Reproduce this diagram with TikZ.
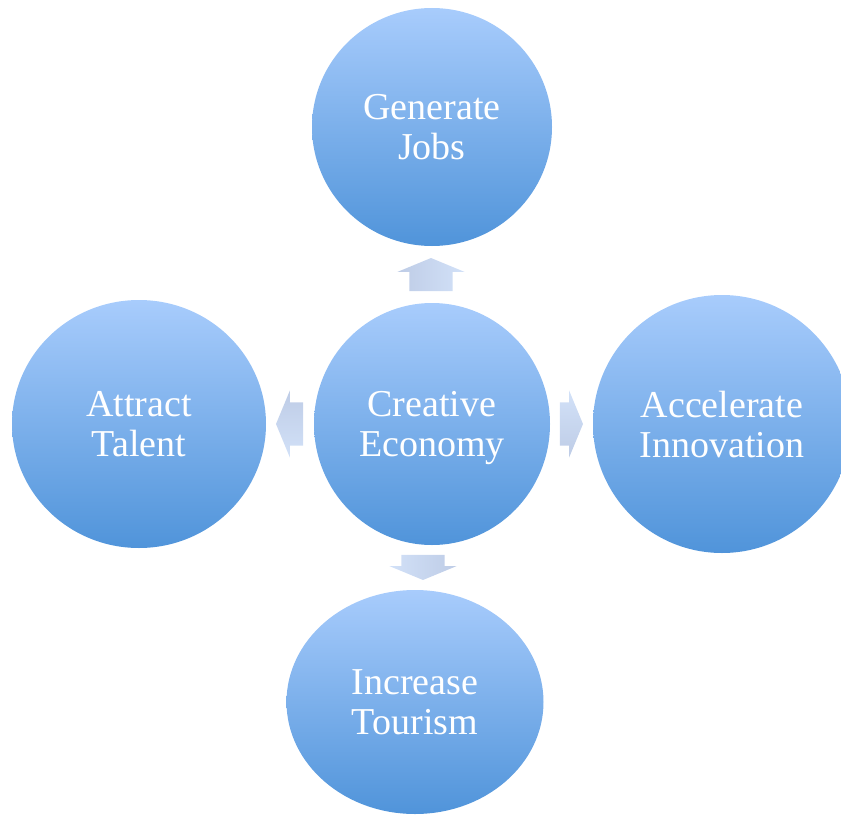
\documentclass[tikz,border=0pt]{standalone}
\usepackage{fontspec}
\setmainfont{Liberation Serif}
\usepackage{tikz}
\usetikzlibrary{positioning,shapes.geometric,shapes.arrows}

\definecolor{bubbletop}{RGB}{168,204,252}
\definecolor{bubblebot}{RGB}{80,148,218}
\definecolor{arrowtop}{RGB}{210,225,248}
\definecolor{arrowbot}{RGB}{190,204,230}

\begin{document}
\begin{tikzpicture}
		[x=1pt,y=-1pt,
		bubble/.style={ellipse,draw=none,inner sep=0pt,top color=bubbletop,bottom color=bubblebot,
			text=white,align=center,text depth=0pt,font=\fontsize{38}{40}\selectfont},
		blockarrow/.style={single arrow,draw=none,inner xsep=0pt,inner ysep=21.5pt,minimum width=67pt,
			single arrow head extend=12pt,single arrow tip angle=135,
			top color=arrowtop,bottom color=arrowbot}]
		\useasboundingbox (0,0) rectangle (841,816);
		
		\node[bubble,minimum width=236pt,minimum height=242pt] (eco) at (432,424) {Creative\\Economy};
		\node[bubble,minimum width=240pt,minimum height=238pt] (jobs) at (432,127) {Generate\\Jobs};
		\node[bubble,minimum width=254pt,minimum height=248pt] (talent) at (139,424) {Attract\\Talent};
		\node[bubble,minimum width=258pt,minimum height=258pt] (innov) at (722,424) {Accelerate\\Innovation};
		\node[bubble,minimum width=257pt,minimum height=224pt] (tourism) at (415,702) {Increase\\Tourism};
		
		\node[blockarrow,minimum height=33pt,rotate=90,shading angle=-90] (up) at (431,279) {};
		\node[blockarrow,minimum height=27pt,rotate=180,shading angle=180] (left) at (294,424) {};
		\node[blockarrow,minimum height=23pt] (right) at (567,424) {};
		\node[blockarrow,minimum height=25pt,rotate=270,shading angle=90] (down) at (423,563) {};
		\end{tikzpicture}
\end{document}
